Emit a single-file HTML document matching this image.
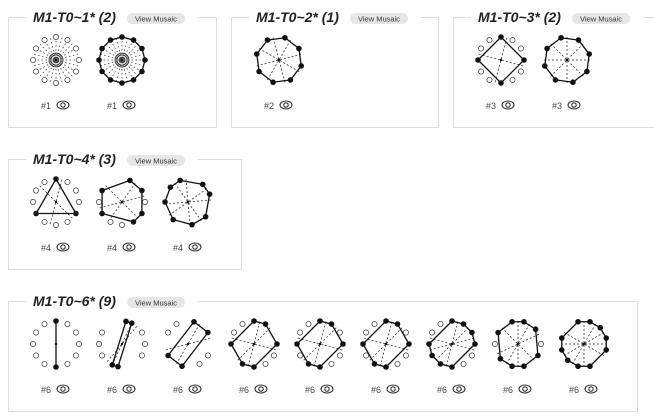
<!DOCTYPE html>
<html><head><meta charset="utf-8">
<style>
body{margin:0;width:654px;height:420px;background:#fff;overflow:hidden;font-family:"Liberation Sans",sans-serif}
svg{position:absolute;left:0;top:0}
</style></head><body>
<svg id="s" width="654" height="420"></svg>
<script>
const groupTitles=["M1-T0~1* (2)","M1-T0~2* (1)","M1-T0~3* (2)","M1-T0~4* (3)","M1-T0~6* (9)"];
const groupLabels=["#1","#2","#3","#4","#6"];
const groupBoxes=[[8,17,208,110],[231,17,207,110],[453,17,210,110],[8,159,233,110],[8,301,629,110]];
const groupFilled=[
 [[],[0,30,60,90,120,150,180,210,240,270,300,330]],
 [[15,60,105,150,195,240,285,330]],
 [[0,90,180,270],[345,30,75,120,165,210,255,300]],
 [[0,120,240],[300,20,60,120,150,240],[340,40,70,130,170,220,270,310]],
 [[0,180],[10,25,190,205],[15,60,195,240],[0,30,90,180,210,270],[0,30,90,180,210,270],[0,30,90,180,210,270],[0,30,60,90,180,210,240,270],[345,15,50,120,165,195,230,300],[345,15,45,75,105,165,195,225,255,285]]
];
const groupHollow=[
 [[0,30,60,90,120,150,180,210,240,270,300,330],[]],
 [[]],
 [[30,60,120,150,210,240,300,330],[]],
 [[30,60,90,150,180,210,270,300,330],[90,180,210,270],[]],
 [[30,60,90,120,150,210,240,270,300,330],[60,90,120,240,270,300],[300,330,120,150],[300,330,120,150],[300,330,120,150,240,60],[300,330,120,150,240,60],[300,330,120,150],[270,90],[]]
];
const S=document.getElementById('s');
const NS='http://www.w3.org/2000/svg';
function el(t,a,p){const e=document.createElementNS(NS,t);for(const k in a)e.setAttribute(k,a[k]);(p||S).appendChild(e);return e;}
const R=23;
function pt(cx,cy,a){const r=a*Math.PI/180;return [cx+R*Math.sin(r),cy-R*Math.cos(r)];}
groupTitles.forEach((title,g)=>{
 const [bx,by,bw,bh]=groupBoxes[g];
 const G=el('g',{});
 
 
 const box=el('rect',{x:bx+.5,y:by+.5,width:bw,height:bh,fill:'none',stroke:'#ddd'},G);
 
 
 el('rect',{x:bx+18,y:by-6,width:172,height:12,fill:'#fff'},G);
 const t=el('text',{x:bx+25,y:by+5,'font-size':14,'font-weight':'bold','font-style':'italic',fill:'#222'},G);
 t.textContent=title;
 
 
 const btn=el('g',{},G);
 
 
 el('rect',{x:bx+119,y:by-4,width:58,height:11,rx:5.5,fill:'#e6e6e6'},btn);
 const bt=el('text',{x:bx+148,y:by+4.5,'font-size':7.5,'text-anchor':'middle',fill:'#333'},btn);
 bt.textContent='View Musaic';
 groupFilled[g].forEach((filled,i)=>{
  const cx=bx+48+66*i, cy=by+43;
  const D=el('g',{},G);
  
  
  // dotted axes
  if(filled.length>0 && filled.length<12){
   for(let k=0;k<filled.length/2;k++){
    const a=filled[k]+ (filled.length>2?15:0);
    const p1=pt(cx,cy,a),p2=pt(cx,cy,a+180);
    el('line',{x1:p1[0],y1:p1[1],x2:p2[0],y2:p2[1],stroke:'#333','stroke-dasharray':'2,2','stroke-width':.8},D);
   }
  } else {
   for(let k=0;k<12;k++){const a=k*15;const p1=pt(cx,cy,a),p2=pt(cx,cy,a+180);
    el('line',{x1:p1[0],y1:p1[1],x2:p2[0],y2:p2[1],stroke:'#444','stroke-dasharray':'1.5,2.5','stroke-width':.8},D);}
   [3,5,7].forEach(r=>el('circle',{cx,cy,r,fill:'none',stroke:'#222','stroke-width':.8},D));
  }
  if(filled.length>1){
   const ps=filled.slice().sort((a,b)=>((a%360)+360)%360-((b%360)+360)%360).map(a=>pt(cx,cy,a).join(','));
   el('polygon',{points:ps.join(' '),fill:'none',stroke:'#111','stroke-width':1.3},D);
  }
  groupHollow[g][i].forEach(a=>{const p=pt(cx,cy,a);el('circle',{cx:p[0],cy:p[1],r:2.6,fill:'#fff',stroke:'#333','stroke-width':.7},D);});
  filled.forEach(a=>{const p=pt(cx,cy,a);el('circle',{cx:p[0],cy:p[1],r:2.8,fill:'#111'},D);});
  el('circle',{cx,cy,r:1.2,fill:'#111'},D);
  const lt=el('text',{x:cx-15,y:by+92,'font-size':9,fill:'#444'},G);
  lt.textContent=groupLabels[g];
  
  
  const eye=el('g',{},G);
  
  
  el('ellipse',{cx:cx+7,cy:by+88,rx:6,ry:4,fill:'none',stroke:'#333','stroke-width':1.1},eye);
  el('circle',{cx:cx+7,cy:by+88,r:2.2,fill:'none',stroke:'#333','stroke-width':1.1},eye);
 });
});
</script>
</body></html>
